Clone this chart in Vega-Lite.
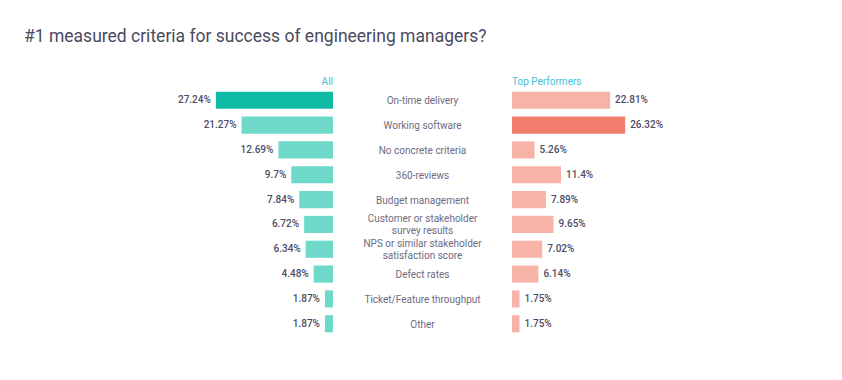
{
  "$schema": "https://vega.github.io/schema/vega-lite/v6.json",
  "padding": {"left": 24, "top": 27, "right": 0, "bottom": 10},
  "background": "white",
  "title": {"text": "#1 measured criteria for success of engineering managers?", "anchor": "start", "font": "Roboto", "fontSize": 17.5, "fontWeight": "normal", "color": "#4a4a60", "offset": 32},
  "config": {"view": {"stroke": null}, "font": "Roboto", "concat": {"spacing": 0}},
  "data": {"values": [
    {"category": "On-time delivery", "all": 27.24, "top": 22.81},
    {"category": "Working software", "all": 21.27, "top": 26.32},
    {"category": "No concrete criteria", "all": 12.69, "top": 5.26},
    {"category": "360-reviews", "all": 9.7, "top": 11.4},
    {"category": "Budget management", "all": 7.84, "top": 7.89},
    {"category": "Customer or stakeholder\nsurvey results", "all": 6.72, "top": 9.65},
    {"category": "NPS or similar stakeholder\nsatisfaction score", "all": 6.34, "top": 7.02},
    {"category": "Defect rates", "all": 4.48, "top": 6.14},
    {"category": "Ticket/Feature throughput", "all": 1.87, "top": 1.75},
    {"category": "Other", "all": 1.87, "top": 1.75}
  ]},
  "transform": [
    {"calculate": "format(datum.all, '.2~f') + '%'", "as": "allLabel"},
    {"calculate": "format(datum.top, '.2~f') + '%'", "as": "topLabel"}
  ],
  "hconcat": [
    {
      "width": 309, "height": 248,
      "title": {"text": "All", "anchor": "end", "fontSize": 10, "fontWeight": "normal", "color": "#3ec1d9", "offset": 1},
      "encoding": {
        "y": {"field": "category", "type": "nominal", "sort": null, "axis": null, "scale": {"paddingInner": 0.31, "paddingOuter": 0.15}},
        "x": {"field": "all", "type": "quantitative", "scale": {"domain": [0, 71.86], "reverse": true, "nice": false}, "axis": null}
      },
      "layer": [
        {"mark": {"type": "bar"}, "encoding": {"color": {"condition": {"test": "datum.category === 'On-time delivery'", "value": "#10bba5"}, "value": "#6fd9c9"}}},
        {"mark": {"type": "text", "align": "right", "dx": -5, "fontSize": 10, "fontWeight": 500, "color": "#4d4d66"}, "encoding": {"text": {"field": "allLabel"}}}
      ]
    },
    {
      "width": 179, "height": 248,
      "title": {"text": " ", "fontSize": 10, "offset": 1},
      "encoding": {
        "y": {"field": "category", "type": "nominal", "axis": null, "scale": {"paddingInner": 0.31, "paddingOuter": 0.15},
          "sort": ["On-time delivery", "Working software", "No concrete criteria", "360-reviews", "Budget management", "Customer or stakeholder\nsurvey results", "NPS or similar stakeholder\nsatisfaction score", "Defect rates", "Ticket/Feature throughput", "Other"]},
        "text": {"field": "category"}
      },
      "layer": [
        {
          "transform": [{"filter": "indexof(datum.category, '\\n') < 0"}],
          "mark": {"type": "text", "align": "center", "fontSize": 10, "color": "#6c6c82", "dy": 1}
        },
        {
          "transform": [{"filter": "indexof(datum.category, '\\n') >= 0"}],
          "mark": {"type": "text", "align": "center", "fontSize": 10, "color": "#6c6c82", "lineBreak": "\n", "lineHeight": 12, "dy": -5}
        }
      ]
    },
    {
      "width": 330, "height": 248,
      "title": {"text": "Top Performers", "anchor": "start", "fontSize": 10, "fontWeight": "normal", "color": "#3ec1d9", "offset": 1},
      "encoding": {
        "y": {"field": "category", "type": "nominal", "sort": null, "axis": null, "scale": {"paddingInner": 0.31, "paddingOuter": 0.15}},
        "x": {"field": "top", "type": "quantitative", "scale": {"domain": [0, 76.74], "nice": false}, "axis": null}
      },
      "layer": [
        {"mark": {"type": "bar"}, "encoding": {"color": {"condition": {"test": "datum.category === 'Working software'", "value": "#f27e6d"}, "value": "#f8b3a9"}}},
        {"mark": {"type": "text", "align": "left", "dx": 5, "fontSize": 10, "fontWeight": 500, "color": "#4d4d66"}, "encoding": {"text": {"field": "topLabel"}}}
      ]
    }
  ]
}
